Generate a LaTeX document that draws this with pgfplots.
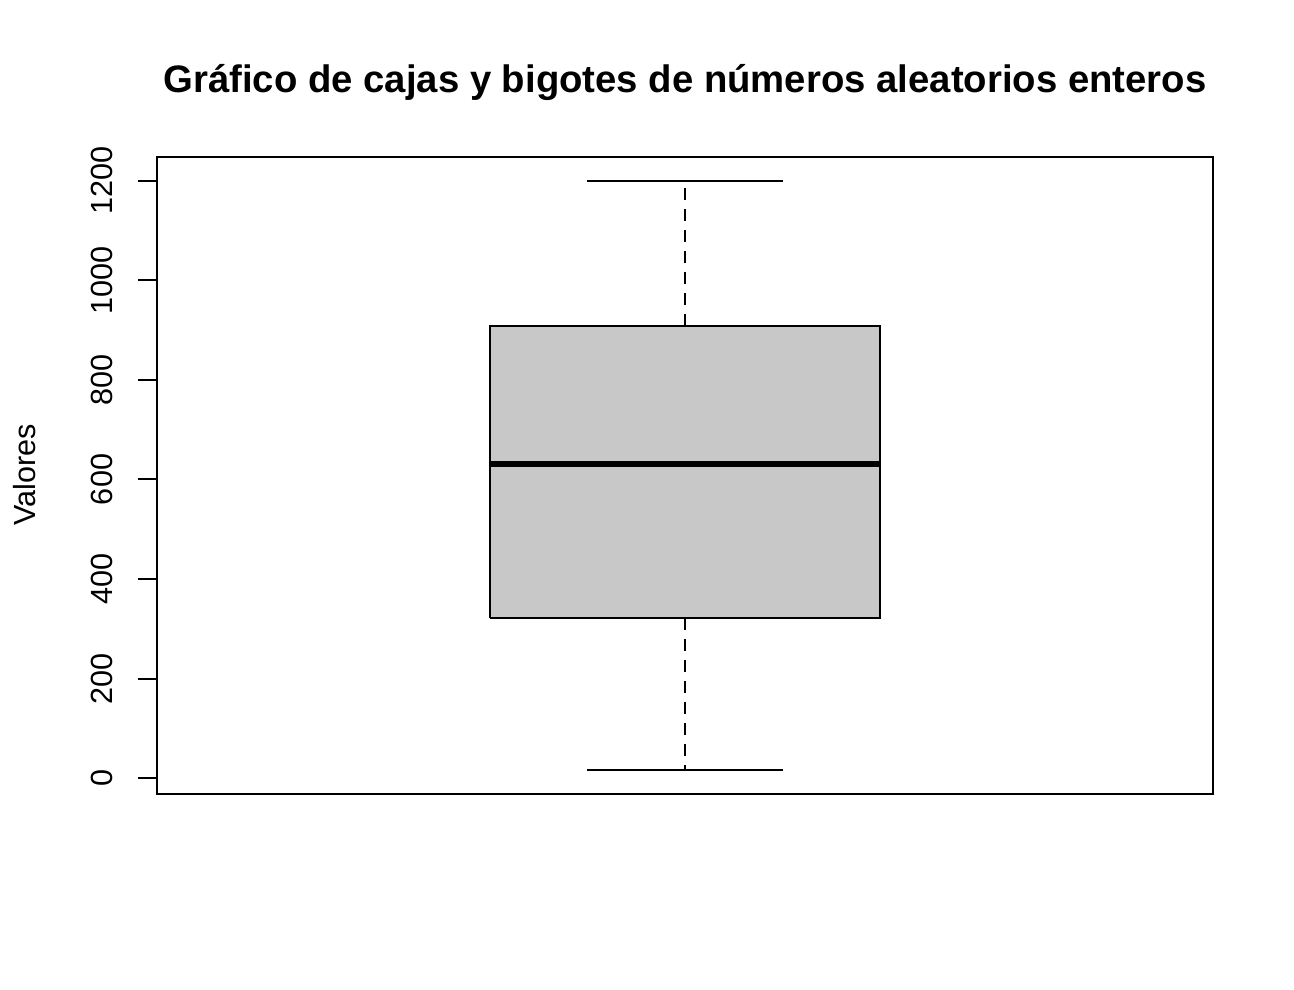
\documentclass[border=0pt]{standalone}
\usepackage{fontspec}
\setmainfont{Liberation Sans}
\usepackage{pgfplots}
\pgfplotsset{compat=1.18}

\begin{document}
\begin{tikzpicture}
\begin{axis}[
    scale only axis,
    width=528pt, height=318.5pt,
    xmin=0.5, xmax=1.5,
    ymin=-32, ymax=1248,
    xtick=\empty,
    ytick={0,200,...,1200},
    ytick pos=left,
    tick align=outside,
    major tick length=9.5pt,
    every tick/.style={black, line width=1pt},
    axis line style={line width=1pt},
    /pgf/number format/assume math mode=true,
    /pgf/number format/1000 sep={},
    yticklabel style={rotate=90, anchor=south, font=\fontsize{15.3}{18}\selectfont, yshift=9pt},
    clip=false,
]
    % box
    \addplot[draw=black, line width=1pt, fill={rgb,255:red,200;green,200;blue,200}] coordinates {
        (0.815,322) (1.185,322) (1.185,908) (0.815,908) (0.815,322)
    };
    % median
    \addplot[black, line width=3pt] coordinates {(0.815,631) (1.185,631)};
    % whiskers
    \addplot[black, line width=1pt, dash pattern=on 6pt off 4.5pt] coordinates {(1,322) (1,16)};
    \addplot[black, line width=1pt, dash pattern=on 6pt off 4.5pt] coordinates {(1,908) (1,1200)};
    % caps
    \addplot[black, line width=1pt] coordinates {(0.907,16) (1.093,16)};
    \addplot[black, line width=1pt] coordinates {(0.907,1200) (1.093,1200)};

    \node[font=\fontsize{19.15}{22}\selectfont\bfseries] at (rel axis cs:0.5,1.117)
        {Gráfico de cajas y bigotes de números aleatorios enteros};
    \node[rotate=90, font=\fontsize{15.3}{18}\selectfont] at (rel axis cs:-0.125,0.5008) {Valores};

    \coordinate (bl) at (rel axis cs:-0.1487,-0.3077);
    \coordinate (tr) at (rel axis cs:1.0767,1.2465);
\end{axis}
\path (bl) rectangle (tr);
\end{tikzpicture}
\end{document}
